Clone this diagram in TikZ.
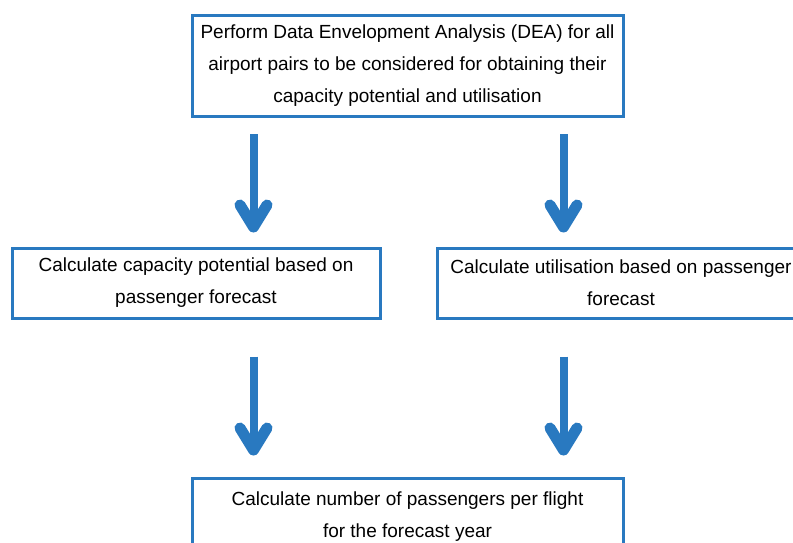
\documentclass[tikz,border=0pt]{standalone}
\usepackage{fontspec}
\setmainfont{Liberation Sans}
\usetikzlibrary{calc,arrows.meta}
\definecolor{flowblue}{RGB}{41,121,192}
\tikzset{
  box/.style={draw=flowblue, line width=3pt, fill=white, align=center,
    inner sep=0pt, font={\fontsize{19}{32}\selectfont}},
  flow/.style={draw=flowblue, line width=8pt,
    -{Straight Barb[length=22pt,width=27pt,line width=11pt,round]}},
}

\begin{document}
\begin{tikzpicture}[x=1pt,y=-1pt]
  \useasboundingbox (0,0) rectangle (793,543);

  \node [box, minimum width=431pt, minimum height=101pt] (dea) at (407.5,66)
    {Perform Data Envelopment Analysis (DEA) for all\\
     airport pairs to be considered for obtaining their\\
     capacity potential and utilisation};
  \node [box, minimum width=368pt, minimum height=70pt] (cap) at (196,283)
    {Calculate capacity potential based on\\passenger forecast};
  \node [box, minimum width=368pt, minimum height=70pt] (util) at (621,283)
    {Calculate utilisation based on passenger\\forecast};
  \node [box, minimum width=431pt, minimum height=77pt] (calc) at (407.5,516.5)
    {Calculate number of passengers per flight\\for the forecast year};

  % arrows between the steps
  \draw [flow] ([shift={(63,16)}]dea.south west)
    -- ([shift={(63,-14)}]dea.south west |- cap.north);
  \draw [flow] ([shift={(-61,16)}]dea.south east)
    -- ([shift={(-61,-14)}]dea.south east |- util.north);
  \draw [flow] ([shift={(63,37)}]dea.south west |- cap.south)
    -- ([shift={(63,-21)}]dea.south west |- calc.north);
  \draw [flow] ([shift={(-61,37)}]dea.south east |- util.south)
    -- ([shift={(-61,-21)}]dea.south east |- calc.north);
\end{tikzpicture}
\end{document}
